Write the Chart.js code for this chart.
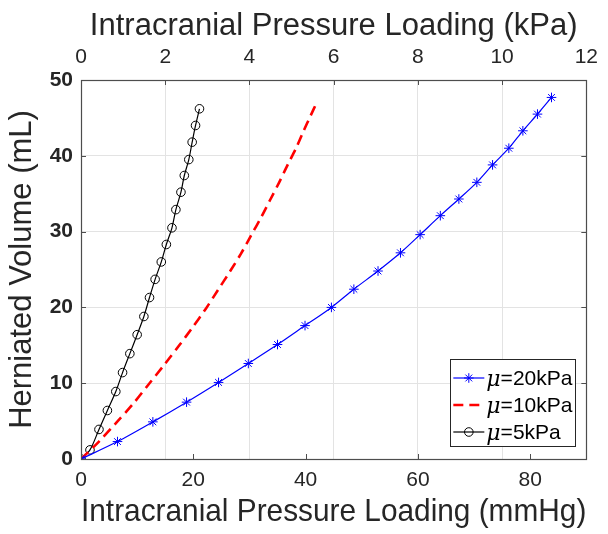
<!DOCTYPE html>
<html>
<head>
<meta charset="utf-8">
<script src="https://cdn.jsdelivr.net/npm/chart.js@4.4.1/dist/chart.umd.min.js"></script>
<style>
  html, body { margin: 0; padding: 0; background: #fff; }
  #wrap { width: 608px; height: 534px; }
</style>
</head>
<body>
<div id="wrap"><canvas id="herniation"></canvas></div>
<script>
// values (x in mmHg, y in mL)
const blueX = [0, 6.5, 12.8, 18.8, 24.5, 29.8, 35.0, 39.9, 44.6, 48.6, 52.9, 56.9, 60.4, 64.0, 67.3, 70.5, 73.3, 76.2, 78.7, 81.3, 83.8];
const blueY = [0, 2.3, 4.9, 7.5, 10.1, 12.6, 15.1, 17.6, 20.0, 22.4, 24.8, 27.2, 29.6, 32.1, 34.3, 36.5, 38.8, 41.0, 43.3, 45.5, 47.7];
const redX = [0, 3.2, 6.3, 9.3, 12.1, 14.8, 17.4, 19.9, 22.3, 24.4, 26.5, 28.5, 30.3, 32.1, 33.7, 35.3, 36.8, 38.3, 39.6, 40.9, 42.1];
const redY = [0, 2.3, 4.8, 7.3, 9.9, 12.4, 14.9, 17.4, 19.9, 22.3, 24.7, 27.1, 29.5, 31.9, 34.2, 36.5, 38.8, 41.0, 43.2, 45.3, 47.2];
const blackX = [0, 1.6, 3.2, 4.7, 6.2, 7.4, 8.7, 10.0, 11.2, 12.2, 13.2, 14.3, 15.2, 16.2, 16.9, 17.8, 18.4, 19.2, 19.8, 20.4, 21.1];
const blackY = [0, 1.2, 3.9, 6.4, 8.9, 11.4, 13.9, 16.4, 18.8, 21.3, 23.7, 26.0, 28.3, 30.5, 32.9, 35.2, 37.4, 39.5, 41.8, 44.0, 46.2];
const seriesLabels = ['\u03bc=20kPa', '\u03bc=10kPa', '\u03bc=5kPa'];
const mmHgTicks = [0, 20, 40, 60, 80];

function pts(xs, ys) { return xs.map(function (x, i) { return { x: x, y: ys[i] }; }); }

const FONT = "'Liberation Sans', Arial, sans-serif";
const TXT = '#262626';
const AX = '#4d4d4d';

// MATLAB style inward ticks + box
const boxTicks = {
  id: 'boxTicks',
  afterDatasetsDraw(chart) {
    const { ctx, chartArea: a, scales } = chart;
    ctx.save();
    ctx.strokeStyle = AX;
    ctx.lineWidth = 1;
    ctx.beginPath();
    scales.x.ticks.forEach(function (t) {
      const p = Math.round(scales.x.getPixelForValue(t.value)) + 0.5;
      ctx.moveTo(p, a.bottom); ctx.lineTo(p, a.bottom - 5);
    });
    scales.x2.ticks.forEach(function (t) {
      const p = Math.round(scales.x2.getPixelForValue(t.value)) + 0.5;
      ctx.moveTo(p, a.top); ctx.lineTo(p, a.top + 5);
    });
    scales.y.ticks.forEach(function (t) {
      const p = Math.round(scales.y.getPixelForValue(t.value)) + 0.5;
      ctx.moveTo(a.left, p); ctx.lineTo(a.left + 5, p);
      ctx.moveTo(a.right, p); ctx.lineTo(a.right - 5, p);
    });
    ctx.stroke();
    ctx.lineWidth = 1.2;
    ctx.strokeRect(Math.round(a.left) + 0.5, Math.round(a.top) + 0.5, Math.round(a.width), Math.round(a.height));
    ctx.restore();
  }
};

// legend box in the lower right corner of the plot
const boxLegend = {
  id: 'boxLegend',
  afterDraw(chart) {
    const { ctx, chartArea: a } = chart;
    const w = 125, h = 87;
    const x0 = a.right - 11 - w, y0 = a.bottom - 13 - h;
    ctx.save();
    ctx.fillStyle = '#fff';
    ctx.fillRect(x0, y0, w, h);
    ctx.strokeStyle = TXT;
    ctx.lineWidth = 1;
    ctx.strokeRect(Math.round(x0) + 0.5, Math.round(y0) + 0.5, w, h);
    chart.data.datasets.forEach(function (ds, i) {
      const cy = y0 + 19 + i * 27;
      ctx.save();
      ctx.strokeStyle = ds.borderColor;
      ctx.lineWidth = ds.borderWidth;
      ctx.setLineDash(ds.borderDash || []);
      ctx.beginPath();
      ctx.moveTo(x0 + 3, cy); ctx.lineTo(x0 + 34, cy);
      ctx.stroke();
      ctx.restore();
      if (ds.pointRadius > 0) {
        ctx.strokeStyle = ds.borderColor;
        ctx.fillStyle = 'rgba(0,0,0,0)';
        Chart.helpers.drawPoint(ctx, { pointStyle: ds.pointStyle, radius: ds.pointRadius, rotation: 0, borderWidth: 1 }, x0 + 18.5, cy);
      }
      ctx.fillStyle = '#000';
      ctx.textBaseline = 'middle';
      ctx.textAlign = 'left';
      const lbl = ds.label;
      ctx.font = "italic 22px 'DejaVu Serif', serif";
      ctx.fillText(lbl.charAt(0), x0 + 36, cy + 2);
      const mw = ctx.measureText(lbl.charAt(0)).width;
      ctx.font = '21px ' + FONT;
      ctx.fillText(lbl.slice(1), x0 + 36 + mw, cy + 1);
    });
    ctx.restore();
  }
};

const config = {
  type: 'line',
  data: {
    datasets: [
      { label: seriesLabels[0], data: pts(blueX, blueY), borderColor: '#0000ff', backgroundColor: '#0000ff',
        borderWidth: 1.2, pointStyle: 'star', pointRadius: 4.8, pointBorderWidth: 1, tension: 0.3 },
      { label: seriesLabels[1], data: pts(redX, redY), borderColor: '#ff0000', backgroundColor: '#ff0000',
        borderWidth: 2.6, borderDash: [10, 6], pointRadius: 0, tension: 0.3 },
      { label: seriesLabels[2], data: pts(blackX, blackY), borderColor: '#000000', backgroundColor: 'rgba(0,0,0,0)',
        borderWidth: 1.2, pointStyle: 'circle', pointRadius: 4.3, pointBorderWidth: 1, tension: 0.3 }
    ]
  },
  options: {
    responsive: true,
    maintainAspectRatio: false,
    animation: false,
    layout: { padding: { left: 0, right: 15, top: 0, bottom: 0 } },
    plugins: { legend: { display: false }, tooltip: { enabled: false } },
    scales: {
      x: {
        type: 'linear', position: 'bottom', min: 0, max: 90,
        afterBuildTicks: function (s) { s.ticks = mmHgTicks.map(function (v) { return { value: v }; }); },
        afterFit: function (s) { s.height = 75; },
        grid: { display: false, drawTicks: false },
        border: { display: false },
        ticks: { padding: 9, color: TXT, font: { family: FONT, size: 21 } },
        title: { display: true, text: 'Intracranial Pressure Loading (mmHg)', color: TXT,
          font: { family: FONT, size: 32 }, padding: { top: 0, bottom: 3 } }
      },
      x2: {
        type: 'linear', position: 'top', min: 0, max: 12,
        ticks: { stepSize: 2, padding: 10, color: TXT, font: { family: FONT, size: 21 } },
        afterFit: function (s) { s.height = 80; },
        grid: { color: '#e3e3e3', drawTicks: false },
        border: { display: false },
        title: { display: true, text: 'Intracranial Pressure Loading (kPa)', color: TXT,
          font: { family: FONT, size: 31 }, padding: { top: 8, bottom: 0 } }
      },
      y: {
        type: 'linear', position: 'left', min: 0, max: 50,
        afterFit: function (s) { s.width = 81; },
        ticks: { stepSize: 10, padding: 8, color: TXT, font: { family: FONT, size: 21, weight: 'bold' } },
        grid: { color: '#e3e3e3', drawTicks: false },
        border: { display: false },
        title: { display: true, text: 'Herniated Volume (mL)', color: TXT,
          font: { family: FONT, size: 31 }, padding: { top: 4, bottom: 0 } }
      }
    }
  },
  plugins: [boxTicks, boxLegend]
};

const herniationChart = new Chart(document.getElementById('herniation'), config);
</script>
</body>
</html>
